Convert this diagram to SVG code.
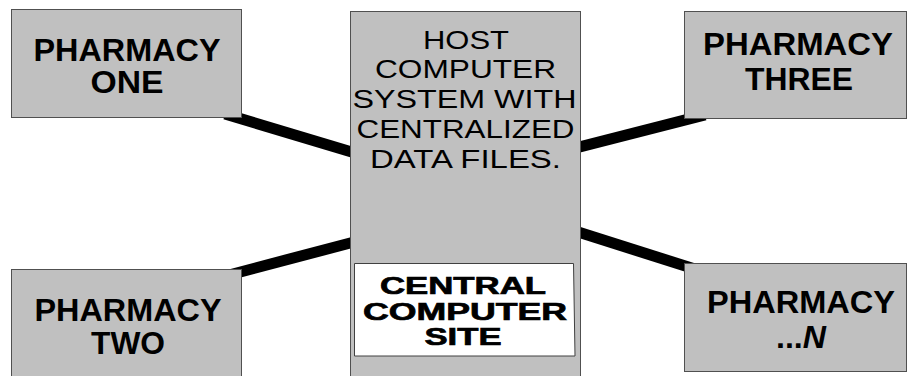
<svg xmlns="http://www.w3.org/2000/svg" width="908" height="376" viewBox="0 0 908 376">
<style>
.box{fill:#c0c0c0;stroke:#505050;stroke-width:1}
.wbox{fill:#ffffff;stroke:#404040;stroke-width:1}
.conn{stroke:#000000;stroke-width:11;fill:none}
.ph{font-family:"Liberation Sans",Arial,sans-serif;font-weight:bold;font-size:31px;fill:#000;text-anchor:middle}
.host{font-family:"Liberation Sans",Arial,sans-serif;font-size:26px;fill:#000;text-anchor:middle}
.site{font-family:"Liberation Sans",Arial,sans-serif;font-weight:bold;font-size:24px;fill:#000;stroke:#000;stroke-width:0.7;text-anchor:middle}
</style>
<rect width="908" height="376" fill="#ffffff"/>
<g id="connectors">
<line class="conn" x1="225" y1="114" x2="355" y2="153"/>
<line class="conn" x1="575" y1="148.2" x2="705" y2="114.8"/>
<line class="conn" x1="230" y1="274.7" x2="355" y2="241.7"/>
<line class="conn" x1="575" y1="231.1" x2="705" y2="272.2"/>
</g>
<g id="pharmacy-one">
<rect class="box" x="11.5" y="9.5" width="230" height="108"/>
<text class="ph" x="127" y="61" textLength="187" lengthAdjust="spacingAndGlyphs">PHARMACY</text>
<text class="ph" x="127" y="93" textLength="73" lengthAdjust="spacingAndGlyphs">ONE</text>
</g>
<g id="pharmacy-two">
<rect class="box" x="11.5" y="269.5" width="230" height="120"/>
<text class="ph" x="128" y="321" textLength="187" lengthAdjust="spacingAndGlyphs">PHARMACY</text>
<text class="ph" x="128" y="354" textLength="74" lengthAdjust="spacingAndGlyphs">TWO</text>
</g>
<g id="pharmacy-three">
<rect class="box" x="684.5" y="11.5" width="222" height="107"/>
<text class="ph" x="798" y="55" textLength="190" lengthAdjust="spacingAndGlyphs">PHARMACY</text>
<text class="ph" x="799" y="90" textLength="108" lengthAdjust="spacingAndGlyphs">THREE</text>
</g>
<g id="pharmacy-n">
<rect class="box" x="684.5" y="263.5" width="222" height="108"/>
<text class="ph" x="801" y="313" textLength="188" lengthAdjust="spacingAndGlyphs">PHARMACY</text>
<text class="ph" x="801" y="348" textLength="50" lengthAdjust="spacingAndGlyphs">...<tspan font-style="italic">N</tspan></text>
</g>
<g id="host">
<rect class="box" x="350.5" y="11.5" width="230" height="380"/>
<text class="host" x="466" y="48.5" textLength="86" lengthAdjust="spacingAndGlyphs">HOST</text>
<text class="host" x="465.5" y="77.5" textLength="181" lengthAdjust="spacingAndGlyphs">COMPUTER</text>
<text class="host" x="464.5" y="107.5" textLength="224" lengthAdjust="spacingAndGlyphs">SYSTEM WITH</text>
<text class="host" x="465.5" y="138" textLength="218" lengthAdjust="spacingAndGlyphs">CENTRALIZED</text>
<text class="host" x="465.5" y="167.5" textLength="191" lengthAdjust="spacingAndGlyphs">DATA FILES.</text>
</g>
<g id="central-computer-site">
<polygon class="wbox" points="354.5,263.5 573.5,263.5 575,356 354.5,356"/>
<text class="site" x="463" y="293.5" textLength="166" lengthAdjust="spacingAndGlyphs">CENTRAL</text>
<text class="site" x="465" y="320" textLength="204" lengthAdjust="spacingAndGlyphs">COMPUTER</text>
<text class="site" x="463" y="345" textLength="77" lengthAdjust="spacingAndGlyphs">SITE</text>
</g>
</svg>
